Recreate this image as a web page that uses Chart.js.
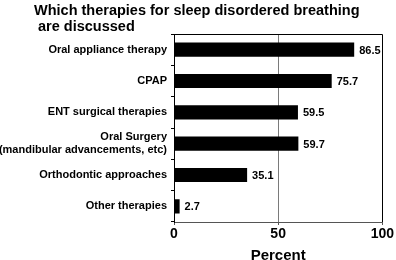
<!DOCTYPE html>
<html>
<head>
<meta charset="utf-8">
<script src="https://cdn.jsdelivr.net/npm/chart.js@4/dist/chart.umd.min.js"></script>
<style>
html,body{margin:0;padding:0;background:#fff;}
#wrap{width:396px;height:260px;}
</style>
</head>
<body>
<div id="wrap"><canvas id="c" width="396" height="260"></canvas></div>
<script>
const categories = [
  'Oral appliance therapy',
  'CPAP',
  'ENT surgical therapies',
  ['Oral Surgery', '(mandibular advancements, etc)'],
  'Orthodontic approaches',
  'Other therapies'
];
const values = [86.5, 75.7, 59.5, 59.7, 35.1, 2.7];
const xTicks = [0, 50, 100];
const titleLines = ['Which therapies for sleep disordered breathing', ' are discussed'];
const xTitle = 'Percent';

const FONT = '"Liberation Sans", Arial, Helvetica, sans-serif';

const valueLabels = {
  id: 'valueLabels',
  afterDatasetsDraw(chart) {
    const ctx = chart.ctx;
    const meta = chart.getDatasetMeta(0);
    ctx.save();
    ctx.font = 'bold 11px ' + FONT;
    ctx.fillStyle = '#000';
    ctx.textAlign = 'left';
    ctx.textBaseline = 'middle';
    meta.data.forEach((bar, i) => {
      ctx.fillText(values[i].toFixed(1), bar.x + 5, bar.y + 1);
    });
    ctx.restore();
  }
};

const titlePlugin = {
  id: 'titlePlugin',
  afterDraw(chart) {
    const ctx = chart.ctx;
    ctx.save();
    ctx.font = 'bold 14.5px ' + FONT;
    ctx.fillStyle = '#000';
    ctx.textAlign = 'left';
    ctx.textBaseline = 'middle';
    titleLines.forEach((t, i) => ctx.fillText(t, 34, 11 + i * 16));
    ctx.restore();
  }
};

const boxPlugin = {
  id: 'boxPlugin',
  afterDraw(chart) {
    const a = chart.chartArea;
    const ctx = chart.ctx;
    ctx.save();
    ctx.strokeStyle = '#000';
    ctx.lineWidth = 1;
    ctx.beginPath();
    ctx.moveTo(Math.round(a.left) + 0.5, Math.round(a.bottom));
    ctx.lineTo(Math.round(a.left) + 0.5, Math.round(a.top) + 0.5);
    ctx.lineTo(Math.round(a.right) + 0.5, Math.round(a.top) + 0.5);
    ctx.lineTo(Math.round(a.right) + 0.5, Math.round(a.bottom));
    ctx.stroke();
    ctx.restore();
  }
};

new Chart(document.getElementById('c'), {
  type: 'bar',
  data: {
    labels: categories,
    datasets: [{
      data: values,
      backgroundColor: '#000',
      borderWidth: 0,
      categoryPercentage: 1,
      barPercentage: 0.45
    }]
  },
  options: {
    indexAxis: 'y',
    responsive: false,
    animation: false,
    devicePixelRatio: 1,
    layout: { padding: { left: 0, right: 11, top: 34, bottom: -3 } },
    plugins: {
      legend: { display: false },
      tooltip: { enabled: false },
      title: { display: false }
    },
    scales: {
      x: {
        type: 'linear',
        min: 0,
        max: 100,
        afterBuildTicks(scale) { scale.ticks = xTicks.map(v => ({ value: v })); },
        ticks: {
          color: '#000',
          font: { family: FONT, size: 14, weight: 'bold', lineHeight: 1 },
          padding: 2,
          maxRotation: 0
        },
        grid: {
          color: ctx => (ctx.tick && ctx.tick.value === 50) ? '#7a7a7a' : 'rgba(0,0,0,0)',
          lineWidth: 1,
          drawTicks: true,
          tickLength: 3,
          tickColor: '#555'
        },
        border: { display: true, color: '#555', width: 1 },
        title: {
          display: true,
          text: xTitle,
          color: '#000',
          font: { family: FONT, size: 15, weight: 'bold', lineHeight: 1 },
          padding: { top: 5, bottom: 0 }
        }
      },
      y: {
        type: 'category',
        offset: true,
        afterFit(scale) { scale.width = 174; },
        ticks: {
          color: '#000',
          font: { family: FONT, size: 11, weight: 'bold', lineHeight: 1.15 },
          padding: 4,
          autoSkip: false
        },
        grid: {
          offset: true,
          drawOnChartArea: false,
          drawTicks: true,
          tickLength: 3,
          tickColor: '#000'
        },
        border: { display: true, color: '#000', width: 1 }
      }
    }
  },
  plugins: [valueLabels, titlePlugin, boxPlugin]
});
</script>
</body>
</html>
